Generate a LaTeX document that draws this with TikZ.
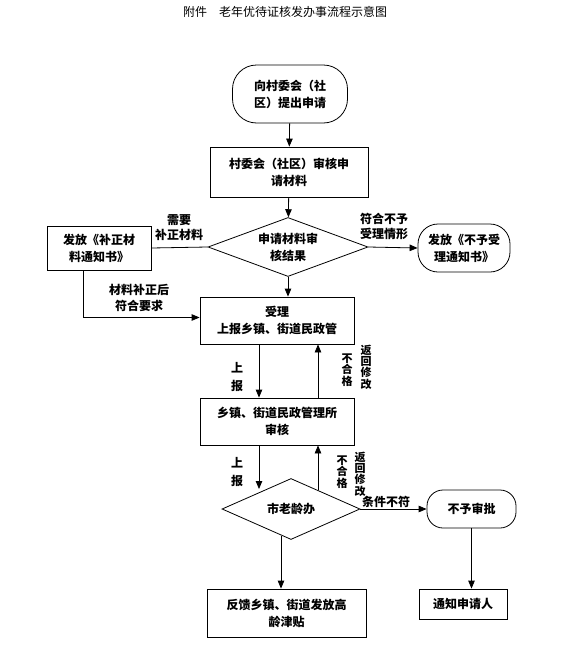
\documentclass[tikz,border=0pt]{standalone}
\usepackage{fontspec}
\setmainfont{Noto Sans CJK SC}
\usetikzlibrary{shapes.geometric,arrows.meta}

\begin{document}
\begin{tikzpicture}[x=1pt,y=-1pt,
	every node/.style={font=\bfseries\fontsize{12}{17}\selectfont,align=center,inner sep=0pt},
	box/.style={draw,line width=0.8pt},
	roundbox/.style={draw,line width=0.8pt,rounded corners=20pt},
	decide/.style={draw,line width=0.8pt,diamond,aspect=2.5},
	lbl/.style={font=\bfseries\fontsize{12}{15}\selectfont},
	vlbl/.style={font=\bfseries\fontsize{11}{10}\selectfont},
	arr/.style={line width=0.8pt,-{Triangle[length=8pt,width=6.5pt]}},
	ln/.style={line width=0.8pt}]
	\useasboundingbox (0,0) rectangle (564,656);
	
	% title
	\node[font=\fontsize{12}{14}\selectfont] (title) at (285,12) {附件\quad 老年优待证核发办事流程示意图};
	
	% main column
	\node[roundbox,rounded corners=24pt,minimum width=115pt,minimum height=58pt] (start) at (290,94) {向村委会（社\\区）提出申请};
	\node[box,minimum width=158pt,minimum height=50pt] (check) at (289,172) {村委会（社区）审核申\\请材料};
	\node[decide,minimum width=160pt,minimum height=59pt] (res) at (288,247) {申请材料审\\核结果};
	\node[box,minimum width=104pt,minimum height=44pt] (supp) at (99,248) {发放《补正材\\料通知书》};
	\node[roundbox,minimum width=92pt,minimum height=48pt] (rej) at (464,248) {发放《不予受\\理通知书》};
	\node[box,minimum width=154pt,minimum height=47pt] (acc) at (277,320.5) {受理\\上报乡镇、街道民政管};
	\node[box,minimum width=154pt,minimum height=47pt] (town) at (277,421.5) {乡镇、街道民政管理所\\审核};
	\node[decide,minimum width=138pt,minimum height=61pt] (city) at (291,509) {市老龄办};
	\node[roundbox,rounded corners=16pt,minimum width=89pt,minimum height=38pt] (noap) at (471.5,509) {不予审批};
	\node[box,minimum width=88pt,minimum height=30pt] (notify) at (463,604) {通知申请人};
	\node[box,minimum width=159pt,minimum height=48pt] (feed) at (286.5,613) {反馈乡镇、街道发放高\\龄津贴};
	
	% free ends on the lower diamond
	\coordinate (cityin) at (259,489);
	\coordinate (cityback) at (318,490);
	\coordinate (cityout) at (281,536);
	
	% connectors
	\draw[arr] (start) -- (check);
	\draw[arr] (check) -- (res);
	\draw[ln] (res.west) -- (supp.east);
	\draw[arr] ([xshift=-16pt]supp.south) |- ([yshift=3pt]acc.west);
	\draw[arr] (res.east) -- (rej.west);
	\draw[arr] (res.south) -- (res.south |- acc.north);
	\draw[arr] ([xshift=-18pt]acc.south) -- ([xshift=-18pt]town.north);
	\draw[arr] ([xshift=41pt]town.north) -- ([xshift=41pt]acc.south);
	\draw[arr] ([xshift=-18pt]town.south) -- (cityin);
	\draw[arr] (cityback) -- (cityback |- town.south);
	\draw[arr] (city.east) -- (noap.west);
	\draw[arr] (noap.south) -- (noap.south |- notify.north);
	\draw[arr] (cityout) -- (cityout |- feed.north);
	
	% labels
	\node[lbl] (need) at (179,228) {需要\\补正材料};
	\node[lbl,font=\bfseries\fontsize{12}{16}\selectfont] (fixed) at (139,298) {材料补正后\\符合要求};
	\node[lbl] (meet) at (384,226) {符合不予\\受理情形};
	\node[lbl,font=\bfseries\fontsize{12}{18}\selectfont] (up1) at (237,377) {上\\报};
	\node[vlbl] (fail1) at (347,370) {不\\合\\格};
	\node[vlbl] (back1) at (366,367) {返\\回\\修\\改};
	\node[lbl,font=\bfseries\fontsize{12}{18}\selectfont] (up2) at (237,472) {上\\报};
	\node[vlbl] (fail2) at (342,472) {不\\合\\格};
	\node[vlbl] (back2) at (360,474) {返\\回\\修\\改};
	\node[lbl] (nofit) at (386,502) {条件不符};
\end{tikzpicture}
\end{document}
